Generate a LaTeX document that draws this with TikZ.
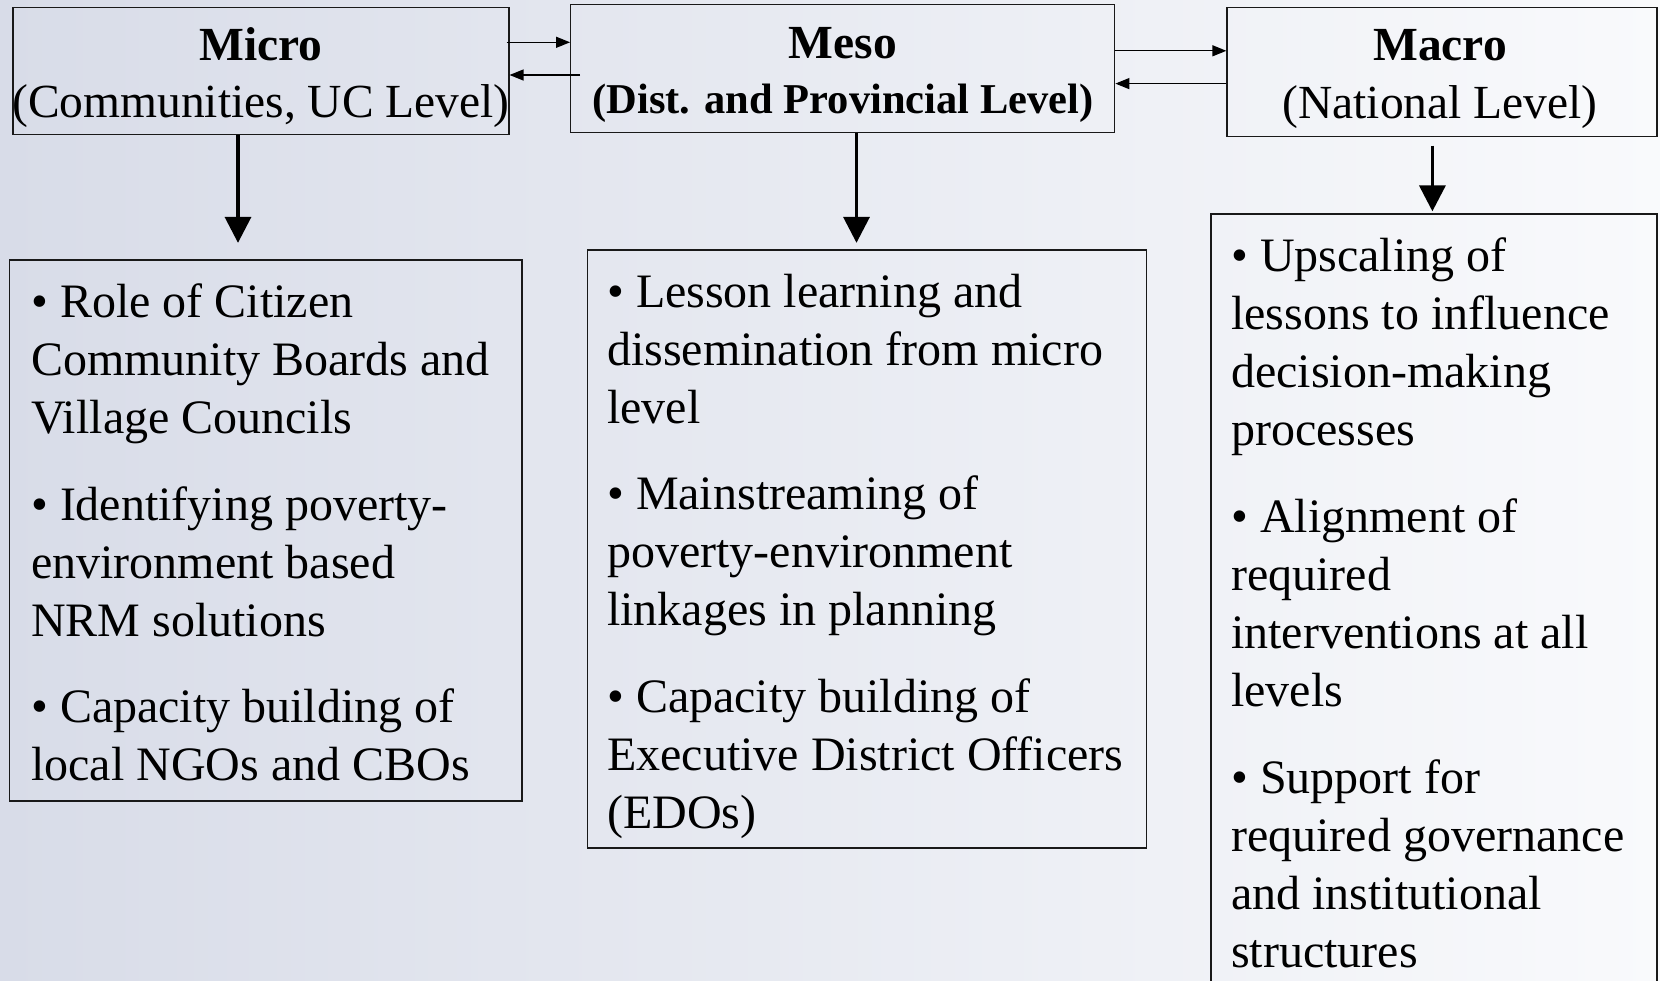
\documentclass[tikz,border=0pt]{standalone}
\usepackage{fontspec}
\setmainfont{Liberation Serif}
\usetikzlibrary{arrows.meta}
\definecolor{bgleft}{RGB}{216,220,232}
\definecolor{bgright}{RGB}{249,250,252}
\definecolor{edge}{RGB}{25,25,25}
\begin{document}
\begin{tikzpicture}[x=1pt,y=-1pt,
  box/.style={draw=edge, line width=1.3pt, inner sep=0pt},
  hd/.style={align=center, inner sep=0pt, font=\fontsize{47.5}{57}\selectfont},
  body/.style={anchor=north west, inner sep=0pt, align=left, font=\fontsize{48}{58}\selectfont},
  harr/.style={-{Triangle[length=14pt,width=11pt]}, line width=1.3pt, draw=black},
  varr/.style={-{Triangle[length=26pt,width=26pt]}, line width=3.5pt, draw=black}]
\clip (0,0) rectangle (1660,980);
\shade[left color=bgleft, right color=bgright] (0,0) rectangle (1660,980);

% header boxes
\node[box, minimum width=496pt, minimum height=127pt] (micro) at (260.9,71) {};
\node[box, minimum width=544pt, minimum height=128pt] (meso) at (842.7,68.3) {};
\node[box, minimum width=430pt, minimum height=129pt] (macro) at (1442,72) {};

\node[hd] (microT) at (261,77.7) {\textbf{Micro}\\(Communities, UC Level)};
\node[hd] (mesoT) at (843,75.2) {\textbf{Meso}\\[-2pt]{\fontsize{42.5}{50}\selectfont\bfseries (Dist. and Provincial Level)}};
\node[hd] (macroT) at (1440,79) {\textbf{Macro}\\[1pt](National Level)};

% body boxes
\node[box, minimum width=512.5pt, minimum height=541pt] (microB) at (265.8,530.5) {};
\node[box, minimum width=559pt, minimum height=598pt] (mesoB) at (867.1,549) {};
\node[box, minimum width=446pt, minimum height=776pt] (macroB) at (1434,602) {};

% body texts
\node[body] (microX) at (31,276.6) {\strut• Role of Citizen\\Community Boards and\\Village Councils\\[28.6pt]
• Identifying poverty-\\environment based\\NRM solutions\\[28.6pt]
• Capacity building of\\local NGOs and CBOs};
\node[body] (mesoX) at (607,266.5) {\strut• Lesson learning and\\dissemination from micro\\level\\[28.6pt]
• Mainstreaming of\\poverty-environment\\linkages in planning\\[28.6pt]
• Capacity building of\\Executive District Officers\\(EDOs)};
\node[body] (macroX) at (1231,231) {\strut• Upscaling of\\lessons to influence\\decision-making\\processes\\[28.6pt]
• Alignment of\\required\\interventions at all\\levels\\[28.6pt]
• Support for\\required governance\\and institutional\\structures};

% horizontal connectors
\draw[harr] ([xshift=-3pt]micro.east |- 0,42.3) -- (meso.west |- 0,42.3);
\draw[harr] ([xshift=10pt]meso.west |- 0,75) -- (micro.east |- 0,75);
\draw[harr] (meso.east |- 0,50.8) -- (macro.west |- 0,50.8);
\draw[harr] (macro.west |- 0,83.6) -- (meso.east |- 0,83.6);

% vertical connectors
\draw[varr] (micro.south -| 238,0) -- ([yshift=16.5pt]microB.north -| 238,0);
\draw[varr] (meso.south -| 856.5,0) -- ([yshift=6.5pt]mesoB.north -| 856.5,0);
\draw[varr] ([yshift=-8.4pt]macro.south -| 1432.4,0) -- ([yshift=2pt]macroB.north -| 1432.4,0);
\end{tikzpicture}
\end{document}
